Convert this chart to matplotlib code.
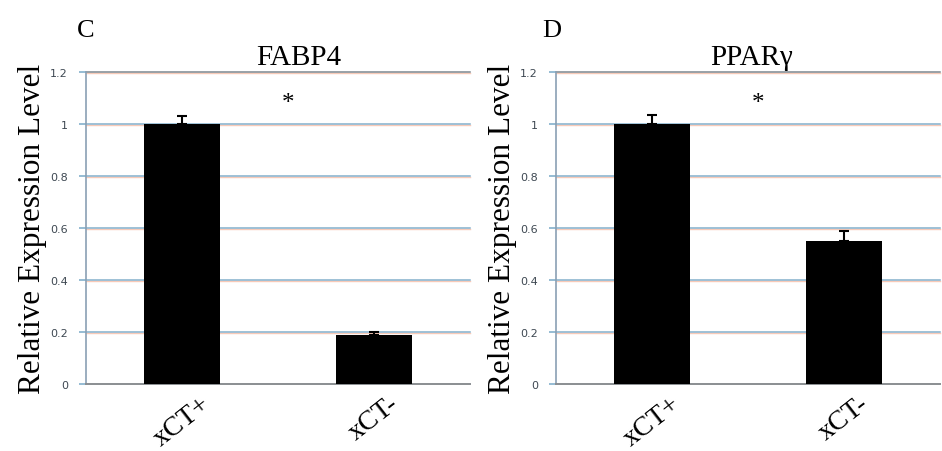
import matplotlib
matplotlib.use("Agg")
import matplotlib.pyplot as plt
import numpy as np

# Data
groups = ["xCT+", "xCT-"]
genes = ["FABP4", "PPARγ"]
panel_letters = ["C", "D"]
fabp4_mean = [1.0, 0.19]
fabp4_err = [0.03, 0.01]
ppar_mean = [1.0, 0.55]
ppar_err = [0.035, 0.04]
yticks = [0, 0.2, 0.4, 0.6, 0.8, 1.0, 1.2]
ytick_labels = ["0", "0.2", "0.4", "0.6", "0.8", "1", "1.2"]

means = [fabp4_mean, ppar_mean]
errs = [fabp4_err, ppar_err]

serif = ["Liberation Serif", "DejaVu Serif"]

fig = plt.figure(figsize=(9.42, 4.52), dpi=100)
fig.patch.set_facecolor("white")

W, H = 942, 452
axes_px = [(86, 470), (556, 940)]
y_top, y_bot = 73, 385

grid_blue = "#84b0cc"
fringe = "#f4b49a"

for i, (x0, x1) in enumerate(axes_px):
    ax = fig.add_axes([x0 / W, (H - y_bot) / H, (x1 - x0) / W, (y_bot - y_top) / H])
    x = np.arange(len(groups))
    ax.set_xlim(-0.5, 1.5)
    ax.set_ylim(0, 1.2)

    # gridlines with a faint reddish fringe just below
    for v in yticks[1:]:
        col = "#7d8890" if v == 1.2 else grid_blue
        ax.axhline(v - 0.0045, color=fringe, lw=1.0, alpha=0.7, zorder=0.5, clip_on=False)
        ax.axhline(v, color=col, lw=1.1, zorder=1, clip_on=False)

    ax.bar(x, means[i], width=0.40, color="black", zorder=3)
    ax.errorbar(x, means[i], yerr=[np.zeros(2), errs[i]], fmt="none",
                ecolor="black", elinewidth=1.5, capsize=3.6, capthick=1.5, zorder=4)

    for side in ["top", "right"]:
        ax.spines[side].set_visible(False)
    ax.spines["left"].set_color("#8aa0b4")
    ax.spines["left"].set_linewidth(1.2)
    ax.spines["bottom"].set_color("#8a8e92")
    ax.spines["bottom"].set_linewidth(1.4)

    ax.set_yticks(yticks)
    ax.set_yticklabels(ytick_labels, fontsize=8, color="#3e4852",
                       family=["DejaVu Sans"])
    ax.tick_params(axis="y", length=5, width=1.2, color=grid_blue, pad=8)
    ax.set_xticks(x)
    ax.set_xticklabels(groups, rotation=38, ha="center", fontsize=20, family=serif)
    ax.tick_params(axis="x", length=0, pad=5)

    ax.set_ylabel("Relative Expression Level", fontsize=22.5, family=serif, labelpad=2)
    ax.text(0.55, 1.08, "*", fontsize=18, family=serif, ha="center", va="center")

    title_x = [299, 752][i]
    fig.text(title_x / W, 1 - 58 / H, genes[i], fontsize=21, family=serif,
             ha="center", va="center")
    letter_x = [86, 552][i]
    fig.text(letter_x / W, 1 - 31 / H, panel_letters[i], fontsize=19, family=serif,
             ha="center", va="center")

fig.savefig("out.png", dpi=100, facecolor="white")
